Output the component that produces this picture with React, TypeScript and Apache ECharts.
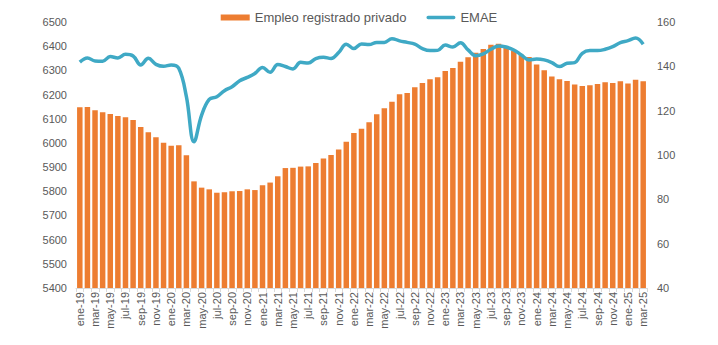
import React, { useEffect, useRef } from "react";
import * as echarts from "echarts";

const monthNames = ["ene", "feb", "mar", "abr", "may", "jun", "jul", "ago", "sep", "oct", "nov", "dic"];
const years = ["19", "20", "21", "22", "23", "24", "25"];
const monthsInLastYear = 3;

const categories: string[] = [];
years.forEach((y, yi) => {
  const n = yi === years.length - 1 ? monthsInLastYear : 12;
  for (let m = 0; m < n; m++) categories.push(`${monthNames[m]}-${y}`);
});

const empleo = [
  6147, 6148, 6135, 6127, 6120, 6111, 6106, 6095, 6066, 6044, 6023, 6001,
  5988, 5990, 5949, 5841, 5815, 5808, 5794, 5796, 5800, 5801, 5808, 5805,
  5825, 5836, 5862, 5896, 5897, 5902, 5903, 5917, 5936, 5950, 5973, 6005,
  6041, 6059, 6085, 6118, 6143, 6170, 6201, 6206, 6230, 6248, 6263, 6272,
  6297, 6310, 6336, 6354, 6373, 6388, 6406, 6410, 6398, 6380, 6365, 6355,
  6324, 6300, 6275, 6263, 6256, 6242, 6235, 6238, 6244, 6251, 6248, 6255,
  6246, 6261, 6255,
];

const emae = [
  141.9, 143.8, 142.4, 142.3, 144.4, 143.8, 145.4, 144.7, 140.6, 143.6, 140.9, 140.0,
  140.6, 139.1, 126.3, 106.0, 118.0, 125.1, 126.3, 129.0, 130.8, 133.5, 135.0, 136.8,
  139.5, 137.3, 140.8, 139.9, 138.8, 141.8, 141.5, 143.5, 144.1, 143.5, 146.2, 150.0,
  148.0, 150.1, 149.8, 150.8, 150.8, 152.5, 151.5, 150.8, 150.0, 148.0, 147.1, 147.2,
  149.6, 148.7, 150.6, 147.4, 144.8, 145.6, 147.7, 149.2, 148.7, 147.4, 145.1, 142.9,
  143.3, 142.9, 141.7, 139.9, 141.4, 141.7, 145.9, 147.1, 147.1, 147.7, 148.9, 150.7,
  151.6, 152.8, 150.0,
];

const seriesNames = ["Empleo registrado privado", "EMAE"];

const TEXT = "#595959";
const FONT = "'Liberation Sans', Arial, sans-serif";
const ORANGE = "#ED7D31";
const BLUE = "#3FA9C5";

export default function App() {
  const ref = useRef<HTMLDivElement>(null);
  useEffect(() => {
    if (!ref.current) return;
    const chart = echarts.init(ref.current, undefined, { renderer: "svg" });
    chart.setOption({
      animation: false,
      textStyle: { fontFamily: FONT, color: TEXT },
      legend: {
        top: -2,
        left: "center",
        itemGap: 20,
        itemWidth: 29,
        itemHeight: 6,
        textStyle: { fontFamily: FONT, color: TEXT, fontSize: 13 },
        data: [
          { name: seriesNames[0], icon: "rect" },
          {
            name: seriesNames[1],
            icon: "path://M0,0L0.01,0M0,6L0.01,6M1.5,1.2L28.5,1.2A1.8,1.8,0,0,1,28.5,4.8L1.5,4.8A1.8,1.8,0,0,1,1.5,1.2Z",
            itemStyle: { color: BLUE },
          },
        ],
      },
      grid: { left: 68, right: 63, top: 14, bottom: 49, containLabel: false },
      xAxis: {
        type: "category",
        data: categories,
        boundaryGap: true,
        axisLine: { show: true, lineStyle: { color: "#D9D9D9", width: 1 } },
        axisTick: { show: true, interval: 0, length: 4, lineStyle: { color: "#D9D9D9" } },
        axisLabel: {
          interval: 1,
          rotate: 90,
          color: TEXT,
          fontFamily: FONT,
          fontSize: 11,
          margin: 4,
        },
      },
      yAxis: [
        {
          type: "value",
          min: 5400,
          max: 6500,
          interval: 100,
          splitLine: { show: false },
          axisLine: { show: false },
          axisTick: { show: false },
          axisLabel: {
            color: TEXT,
            fontFamily: FONT,
            fontSize: 11,
            margin: 9,
            formatter: (v: number) => String(v),
          },
        },
        {
          type: "value",
          min: 40,
          max: 160,
          interval: 20,
          splitLine: { show: false },
          axisLine: { show: false },
          axisTick: { show: false },
          axisLabel: {
            color: TEXT,
            fontFamily: FONT,
            fontSize: 11,
            margin: 10,
            formatter: (v: number) => String(v),
          },
        },
      ],
      series: [
        {
          name: seriesNames[0],
          type: "bar",
          data: empleo,
          yAxisIndex: 0,
          barCategoryGap: "28%",
          itemStyle: { color: ORANGE },
        },
        {
          name: seriesNames[1],
          type: "line",
          data: emae,
          yAxisIndex: 1,
          smooth: 0.4,
          symbol: "none",
          lineStyle: { color: BLUE, width: 3.5 },
          itemStyle: { color: BLUE },
        },
      ],
    });
    return () => chart.dispose();
  }, []);
  return <div ref={ref} style={{ width: 702, height: 329 }} />;
}
